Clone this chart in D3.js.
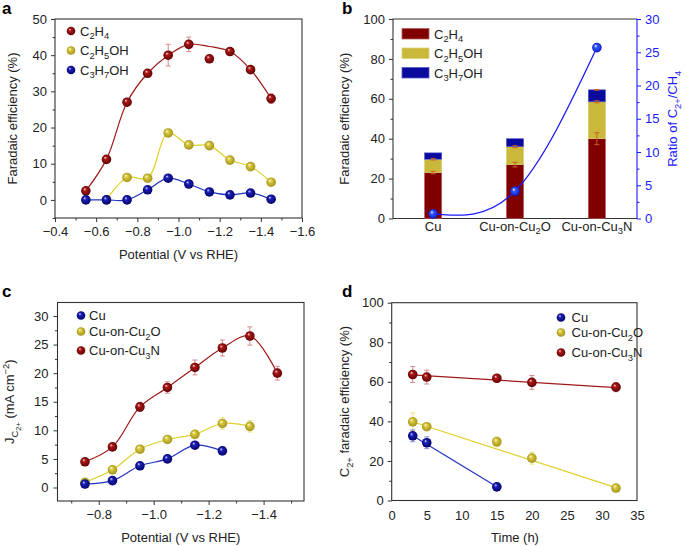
<!DOCTYPE html>
<html><head><meta charset="utf-8">
<script src="https://cdn.jsdelivr.net/npm/d3@7"></script>
<style>body{margin:0;background:#fff}</style>
</head><body>
<svg id="chart" width="685" height="546"></svg>
<script>
// ---------- DATA ----------
// Panel a
const potA = [-0.55,-0.65,-0.75,-0.85,-0.95,-1.05,-1.15,-1.25,-1.35,-1.45];
const feC2H4 = [2.5,11.2,27,35,40,43,39,41,36,28];
const feC2H4Err = [0,0,0,0,3,2,0,0,0,1.3];
const feC2H4Fit = [2.5,11.2,27,35,40,43,42.4,41,36,28];
const feC2H5OH = [null,0,6.2,6,18.5,15.2,15,11,9.2,4.9];
const feC3H7OH = [0,0,0,2.8,6,4.4,2.2,1.4,1.9,0.2];
const aXTicks = [-0.4,-0.6,-0.8,-1.0,-1.2,-1.4,-1.6];
const aXMinor = [-0.5,-0.7,-0.9,-1.1,-1.3,-1.5];
const aYTicks = [0,10,20,30,40,50];
const aYMinor = [-5,5,15,25,35,45];
// Panel b
const catsB = ["Cu","Cu-on-Cu_2O","Cu-on-Cu_3N"];
const barC2H4 = [23,27,40];
const barC2H5OH = [6.7,9,18.5];
const barC3H7OH = [3.2,4,6];
const errC2H4 = [0.6,1.2,3];
const errC2H5OH = [0.4,0.5,0.5];
const errC3H7OH = [0,0,0.2];
const ratioB = [0.7,4.1,25.7];
const bYTicks = [0,20,40,60,80,100];
const bYMinor = [10,30,50,70,90];
const bRTicks = [0,5,10,15,20,25,30];
const bRMinor = [2.5,7.5,12.5,17.5,22.5,27.5];
// Panel c
const potC = [-0.75,-0.85,-0.95,-1.05,-1.15,-1.25,-1.35,-1.45];
const jCu = [0.6,1.2,3.8,5.0,7.4,6.4];
const jCu2O = [0.9,3.1,6.7,8.4,9.3,11.2,10.7];
const jCu2OErr = [0,0,0,0,0,1,1];
const jCu3N = [4.5,7.1,14.1,17.5,21,24.4,26.5,20];
const jCu3NErr = [0,0,0.8,1,1.3,1.4,1.6,1.2];
const cXTicks = [-0.8,-1.0,-1.2,-1.4];
const cXMinor = [-0.7,-0.9,-1.1,-1.3,-1.5];
const cYTicks = [0,5,10,15,20,25,30];
const cYMinor = [2.5,7.5,12.5,17.5,22.5,27.5];
// Panel d
const timeD = [3,5,15,20,32];
const dCu = [32.7,29.2,6.9];
const dCuErr = [3,3,0.5];
const dCu2O = [39.8,37.3,29.7,21.4,6.3];
const dCu2OErr = [4.5,1.2,2.5,3,0.8];
const dCu3N = [63.7,62.4,61.8,59.7,57.3];
const dCu3NErr = [4,3.5,1.3,3.5,2.3];
const fitTimeCu = [3,15];
const fitCu = [32.7,7.0];
const fitTime = [3,32];
const fitCu2O = [39.8,6.5];
const fitCu3N = [63.5,57.1];
const dXTicks = [0,5,10,15,20,25,30,35];
const dYTicks = [0,20,40,60,80,100];
const dYMinor = [10,30,50,70,90];

// ---------- STYLE ----------
const FONT = "'Liberation Sans', Arial, Helvetica, sans-serif";
const FS = 13;
const RED = "#a01818", YEL = "#e0d02a", BLU = "#2233c0";
const RED_E = "#d88a8a", YEL_E = "#ece47a", BLU_E = "#8a90d8";

const svg = d3.select("#chart");
const defs = svg.append("defs");
function grad(id, hi, mid, dark){
  const g = defs.append("radialGradient").attr("id",id)
    .attr("cx","50%").attr("cy","50%").attr("r","55%").attr("fx","35%").attr("fy","30%");
  g.append("stop").attr("offset","0%").attr("stop-color",hi);
  g.append("stop").attr("offset","30%").attr("stop-color",mid);
  g.append("stop").attr("offset","100%").attr("stop-color",dark);
}
grad("gRed","#ffd8d8","#a81818","#5a0000");
grad("gYel","#fffbe6","#d9ca3e","#9c8c18");
grad("gBlu","#d8dcff","#1c20b8","#000060");
grad("gRat","#ffffff","#3a5cff","#0012c8");

// rich text: _x sub, ^x sup, ~x sub-sub ; groups in {}
function parseRich(s){
  const out=[]; let i=0, cur="";
  const push=(t,k)=>{ if(t.length) out.push([t,k]); };
  while(i<s.length){
    const ch=s[i];
    if(ch==="_"||ch==="^"||ch==="~"){
      push(cur,"n"); cur="";
      let grp="";
      if(s[i+1]==="{"){ const j=s.indexOf("}",i+2); grp=s.slice(i+2,j); i=j+1; }
      else { grp=s[i+1]; i+=2; }
      out.push([grp, ch==="_"?"sub":ch==="^"?"sup":"ss"]);
    } else { cur+=ch; i++; }
  }
  push(cur,"n");
  return out;
}
function fillRich(textSel, str, size){
  const segs=parseRich(str);
  const off={n:0, sub:0.3*size, sup:-0.42*size, ss:0.5*size};
  const sz={n:size, sub:0.72*size, sup:0.72*size, ss:0.58*size};
  let prev=0;
  segs.forEach(([t,k])=>{
    textSel.append("tspan").attr("dy",off[k]-prev).attr("font-size",sz[k]).text(t);
    prev=off[k];
  });
}
function richText(g, x, y, str, opts={}){
  const t=g.append("text").attr("x",x).attr("y",y)
    .attr("font-family",FONT).attr("font-size",opts.size||FS)
    .attr("fill",opts.fill||"#222").attr("text-anchor",opts.anchor||"start");
  if(opts.rotate) t.attr("transform",`rotate(-90,${x},${y})`);
  fillRich(t,str,opts.size||FS);
  return t;
}
function styleAxis(g, color){
  g.select(".domain").remove();
  g.selectAll("text").attr("font-size",FS).attr("font-family",FONT).attr("fill",color||"#222");
  g.selectAll("line").attr("stroke",color||"#333");
}
function sphere(g, x, y, fill, r){
  g.append("circle").attr("cx",x).attr("cy",y).attr("r",r||4.8).attr("fill",`url(#${fill})`);
}
function errBar(g, x, y0, y1, color){
  g.append("line").attr("x1",x).attr("x2",x).attr("y1",y0).attr("y2",y1).attr("stroke",color).attr("stroke-width",1);
  [y0,y1].forEach(yy=>g.append("line").attr("x1",x-2.5).attr("x2",x+2.5).attr("y1",yy).attr("y2",yy).attr("stroke",color).attr("stroke-width",1));
}
function frame(g,x0,y0,x1,y1){
  g.append("rect").attr("x",x0).attr("y",y0).attr("width",x1-x0).attr("height",y1-y0)
    .attr("fill","none").attr("stroke","#333").attr("stroke-width",1.1);
}
function panelLabel(x,y,t){
  svg.append("text").attr("x",x).attr("y",y).attr("font-family",FONT).attr("font-weight","bold")
    .attr("font-size",17).attr("fill","#000").text(t);
}
const fmt1 = d3.format(".1f");

// ---------- PANEL A ----------
{
  const g = svg.append("g");
  const X0=55, X1=302, Y0=19, Y1=218;
  const x = d3.scaleLinear([-0.4,-1.6],[X0,X1]);
  const y = d3.scaleLinear([-5,50],[Y1,Y0]);
  frame(g,X0,Y0,X1,Y1);
  const xa=g.append("g").attr("transform",`translate(0,${Y1})`)
    .call(d3.axisBottom(x).tickValues(aXTicks).tickFormat(fmt1).tickSize(4).tickPadding(5).tickSizeOuter(0));
  styleAxis(xa);
  const xm=g.append("g").attr("transform",`translate(0,${Y1})`)
    .call(d3.axisBottom(x).tickValues(aXMinor).tickFormat("").tickSize(2.5).tickSizeOuter(0));
  styleAxis(xm);
  const ya=g.append("g").attr("transform",`translate(${X0},0)`)
    .call(d3.axisLeft(y).tickValues(aYTicks).tickSize(4).tickPadding(4).tickSizeOuter(0));
  styleAxis(ya);
  const ym=g.append("g").attr("transform",`translate(${X0},0)`)
    .call(d3.axisLeft(y).tickValues(aYMinor).tickFormat("").tickSize(2.5).tickSizeOuter(0));
  styleAxis(ym);

  const line = d3.line().defined(d=>d[1]!=null).x(d=>x(d[0])).y(d=>y(d[1])).curve(d3.curveCatmullRom.alpha(0.5));
  const red = potA.map((p,i)=>[p,feC2H4Fit[i]]);
  const yel = potA.map((p,i)=>[p,feC2H5OH[i]]).filter(d=>d[1]!=null);
  const blu = potA.map((p,i)=>[p,feC3H7OH[i]]);
  g.append("path").attr("d",line(red)).attr("fill","none").attr("stroke",RED).attr("stroke-width",1.2);
  g.append("path").attr("d",line(yel)).attr("fill","none").attr("stroke",YEL).attr("stroke-width",1.2);
  g.append("path").attr("d",line(blu)).attr("fill","none").attr("stroke",BLU).attr("stroke-width",1.2);
  potA.forEach((p,i)=>{ if(feC2H4Err[i]>0) errBar(g,x(p),y(feC2H4[i]-feC2H4Err[i]),y(feC2H4[i]+feC2H4Err[i]),RED_E); });
  potA.forEach((p,i)=>sphere(g,x(p),y(feC2H4[i]),"gRed"));
  potA.forEach((p,i)=>{ if(feC2H5OH[i]!=null) sphere(g,x(p),y(feC2H5OH[i]),"gYel"); });
  potA.forEach((p,i)=>sphere(g,x(p),y(feC3H7OH[i]),"gBlu"));

  // legend
  const leg=[["C_2H_4","gRed"],["C_2H_5OH","gYel"],["C_3H_7OH","gBlu"]];
  leg.forEach((l,i)=>{
    const yy=31+i*19.5;
    sphere(g,71,yy,l[1],4.3);
    richText(g,80,yy+4.5,l[0]);
  });
  richText(g,(X0+X1)/2,259,"Potential (V vs RHE)",{anchor:"middle"});
  richText(g,17,(Y0+Y1)/2,"Faradaic efficiency (%)",{anchor:"middle",rotate:true});
  panelLabel(2,14,"a");
}

// ---------- PANEL B ----------
{
  const g = svg.append("g");
  const X0=393, X1=637, Y0=19, Y1=218.5;
  const x = d3.scaleBand(catsB,[X0,X1]).paddingInner(0.79).paddingOuter(0.385);
  const y = d3.scaleLinear([0,100],[Y1,Y0]);
  const yr = d3.scaleLinear([0,30],[Y1,Y0]);
  g.append("path").attr("d",`M${X1},${Y0}H${X0}V${Y1}H${X1}`).attr("fill","none").attr("stroke","#333").attr("stroke-width",1.1);
  g.append("line").attr("x1",X1).attr("x2",X1).attr("y1",Y0).attr("y2",Y1).attr("stroke","#1a1aff").attr("stroke-width",1.1);
  const ya=g.append("g").attr("transform",`translate(${X0},0)`)
    .call(d3.axisLeft(y).tickValues(bYTicks).tickSize(4).tickPadding(4).tickSizeOuter(0));
  styleAxis(ya);
  const ym=g.append("g").attr("transform",`translate(${X0},0)`)
    .call(d3.axisLeft(y).tickValues(bYMinor).tickFormat("").tickSize(2.5).tickSizeOuter(0));
  styleAxis(ym);
  const ra=g.append("g").attr("transform",`translate(${X1},0)`)
    .call(d3.axisRight(yr).tickValues(bRTicks).tickSize(4).tickPadding(4).tickSizeOuter(0));
  styleAxis(ra,"#1a1aff");
  const rm=g.append("g").attr("transform",`translate(${X1},0)`)
    .call(d3.axisRight(yr).tickValues(bRMinor).tickFormat("").tickSize(2.5).tickSizeOuter(0));
  styleAxis(rm,"#1a1aff");
  const xa=g.append("g").attr("transform",`translate(0,${Y1})`)
    .call(d3.axisBottom(x).tickSize(0).tickPadding(12));
  styleAxis(xa);
  xa.selectAll(".tick text").each(function(d){ const t=d3.select(this); t.text(null); fillRich(t,d,FS); });

  const rows = catsB.map((c,i)=>({cat:c, C2H4:barC2H4[i], C2H5OH:barC2H5OH[i], C3H7OH:barC3H7OH[i]}));
  const keys=["C2H4","C2H5OH","C3H7OH"];
  const cols={C2H4:"#800000", C2H5OH:"#c9b83a", C3H7OH:"#0a0a9c"};
  const edge={C2H4:"#b86060", C2H5OH:"#ddd27a", C3H7OH:"#5a5ad0"};
  const errs={C2H4:errC2H4, C2H5OH:errC2H5OH, C3H7OH:errC3H7OH};
  const stacked=d3.stack().keys(keys)(rows);
  stacked.forEach(s=>{
    s.forEach((d,i)=>{
      g.append("rect").attr("x",x(d.data.cat)).attr("width",x.bandwidth())
        .attr("y",y(d[1])).attr("height",y(d[0])-y(d[1]))
        .attr("fill",cols[s.key]).attr("stroke",edge[s.key]).attr("stroke-width",0.6);
    });
  });
  stacked.forEach(s=>{
    s.forEach((d,i)=>{
      const e=errs[s.key][i]; if(e>0){
        const cx=x(d.data.cat)+x.bandwidth()/2;
        errBar(g,cx,y(d[1]-e),y(d[1]+e),"#c8602a");
      }
    });
  });
  const rl=d3.line().x((d,i)=>x(catsB[i])+x.bandwidth()/2).y(d=>yr(d)).curve(d3.curveNatural);
  g.append("path").attr("d",rl(ratioB)).attr("fill","none").attr("stroke","#1a1aff").attr("stroke-width",1.3);
  ratioB.forEach((v,i)=>sphere(g,x(catsB[i])+x.bandwidth()/2,yr(v),"gRat",4.8));

  const leg=[["C_2H_4","C2H4"],["C_2H_5OH","C2H5OH"],["C_3H_7OH","C3H7OH"]];
  leg.forEach((l,i)=>{
    const yy=28.5+i*19.5;
    g.append("rect").attr("x",402).attr("y",yy).attr("width",27).attr("height",10.5)
      .attr("fill",cols[l[1]]).attr("stroke",edge[l[1]]).attr("stroke-width",0.8);
    richText(g,434,yy+10,l[0]);
  });
  richText(g,349,(Y0+Y1)/2,"Faradaic efficiency (%)",{anchor:"middle",rotate:true});
  richText(g,677,(Y0+Y1)/2,"Ratio of C_{2+}/CH_4",{anchor:"middle",rotate:true,fill:"#1a1aff"});
  panelLabel(342,14,"b");
}

// ---------- PANEL C ----------
{
  const g = svg.append("g");
  const X0=57.5, X1=304, Y0=302.5, Y1=501;
  const x = d3.scaleLinear([-0.65,-1.547],[X0,X1]);
  const y = d3.scaleLinear([0,30],[487.5,316]);
  frame(g,X0,Y0,X1,Y1);
  const xa=g.append("g").attr("transform",`translate(0,${Y1})`)
    .call(d3.axisBottom(x).tickValues(cXTicks).tickFormat(fmt1).tickSize(4).tickPadding(5).tickSizeOuter(0));
  styleAxis(xa);
  const xm=g.append("g").attr("transform",`translate(0,${Y1})`)
    .call(d3.axisBottom(x).tickValues(cXMinor).tickFormat("").tickSize(2.5).tickSizeOuter(0));
  styleAxis(xm);
  const ya=g.append("g").attr("transform",`translate(${X0},0)`)
    .call(d3.axisLeft(y).tickValues(cYTicks).tickSize(4).tickPadding(5).tickSizeOuter(0));
  styleAxis(ya);
  const ym=g.append("g").attr("transform",`translate(${X0},0)`)
    .call(d3.axisLeft(y).tickValues(cYMinor).tickFormat("").tickSize(2.5).tickSizeOuter(0));
  styleAxis(ym);
  const line=d3.line().x(d=>x(d[0])).y(d=>y(d[1])).curve(d3.curveCatmullRom.alpha(0.5));
  const s1=jCu.map((v,i)=>[potC[i],v]), s2=jCu2O.map((v,i)=>[potC[i],v]), s3=jCu3N.map((v,i)=>[potC[i],v]);
  g.append("path").attr("d",line(s3)).attr("fill","none").attr("stroke",RED).attr("stroke-width",1.2);
  g.append("path").attr("d",line(s2)).attr("fill","none").attr("stroke",YEL).attr("stroke-width",1.2);
  g.append("path").attr("d",line(s1)).attr("fill","none").attr("stroke",BLU).attr("stroke-width",1.2);
  jCu3N.forEach((v,i)=>{ if(jCu3NErr[i]>0) errBar(g,x(potC[i]),y(v-jCu3NErr[i]),y(v+jCu3NErr[i]),RED_E); });
  jCu2O.forEach((v,i)=>{ if(jCu2OErr[i]>0) errBar(g,x(potC[i]),y(v-jCu2OErr[i]),y(v+jCu2OErr[i]),YEL_E); });
  jCu3N.forEach((v,i)=>sphere(g,x(potC[i]),y(v),"gRed"));
  jCu2O.forEach((v,i)=>sphere(g,x(potC[i]),y(v),"gYel"));
  jCu.forEach((v,i)=>sphere(g,x(potC[i]),y(v),"gBlu"));
  const leg=[["Cu","gBlu",315.5],["Cu-on-Cu_2O","gYel",331.5],["Cu-on-Cu_3N","gRed",350.5]];
  leg.forEach(l=>{ sphere(g,81,l[2],l[1],4.3); richText(g,89,l[2]+4.5,l[0]); });
  richText(g,(X0+X1)/2,542,"Potential (V vs RHE)",{anchor:"middle"});
  richText(g,14,(Y0+Y1)/2,"J_{C}~{2+} (mA cm^{−2})",{anchor:"middle",rotate:true});
  panelLabel(2,297,"c");
}

// ---------- PANEL D ----------
{
  const g = svg.append("g");
  const X0=391.7, X1=637, Y0=302.7, Y1=500.5;
  const x = d3.scaleLinear([0,35],[X0,X1]);
  const y = d3.scaleLinear([0,100],[Y1,Y0]);
  frame(g,X0,Y0,X1,Y1);
  const xa=g.append("g").attr("transform",`translate(0,${Y1})`)
    .call(d3.axisBottom(x).tickValues(dXTicks).tickSize(0).tickPadding(10).tickSizeOuter(0));
  styleAxis(xa);
  const ya=g.append("g").attr("transform",`translate(${X0},0)`)
    .call(d3.axisLeft(y).tickValues(dYTicks).tickSize(4).tickPadding(4).tickSizeOuter(0));
  styleAxis(ya);
  const ym=g.append("g").attr("transform",`translate(${X0},0)`)
    .call(d3.axisLeft(y).tickValues(dYMinor).tickFormat("").tickSize(2.5).tickSizeOuter(0));
  styleAxis(ym);
  const line=d3.line().x(d=>x(d[0])).y(d=>y(d[1]));
  g.append("path").attr("d",line(fitTime.map((t,i)=>[t,fitCu3N[i]]))).attr("fill","none").attr("stroke",RED).attr("stroke-width",1.2);
  g.append("path").attr("d",line(fitTime.map((t,i)=>[t,fitCu2O[i]]))).attr("fill","none").attr("stroke",YEL).attr("stroke-width",1.2);
  g.append("path").attr("d",line(fitTimeCu.map((t,i)=>[t,fitCu[i]]))).attr("fill","none").attr("stroke",BLU).attr("stroke-width",1.2);
  dCu3N.forEach((v,i)=>errBar(g,x(timeD[i]),y(v-dCu3NErr[i]),y(v+dCu3NErr[i]),RED_E));
  dCu2O.forEach((v,i)=>errBar(g,x(timeD[i]),y(v-dCu2OErr[i]),y(v+dCu2OErr[i]),YEL_E));
  dCu.forEach((v,i)=>errBar(g,x(timeD[i]),y(v-dCuErr[i]),y(v+dCuErr[i]),BLU_E));
  dCu3N.forEach((v,i)=>sphere(g,x(timeD[i]),y(v),"gRed"));
  dCu2O.forEach((v,i)=>sphere(g,x(timeD[i]),y(v),"gYel"));
  dCu.forEach((v,i)=>sphere(g,x(timeD[i]),y(v),"gBlu"));
  const leg=[["Cu","gBlu",317.5],["Cu-on-Cu_2O","gYel",332.5],["Cu-on-Cu_3N","gRed",352.5]];
  leg.forEach(l=>{ sphere(g,561,l[2],l[1],4.3); richText(g,571.5,l[2]+4.5,l[0]); });
  richText(g,515,542,"Time (h)",{anchor:"middle"});
  richText(g,349,(Y0+Y1)/2,"C_{2+} faradaic efficiency (%)",{anchor:"middle",rotate:true});
  panelLabel(342,297,"d");
}
</script>
</body></html>
